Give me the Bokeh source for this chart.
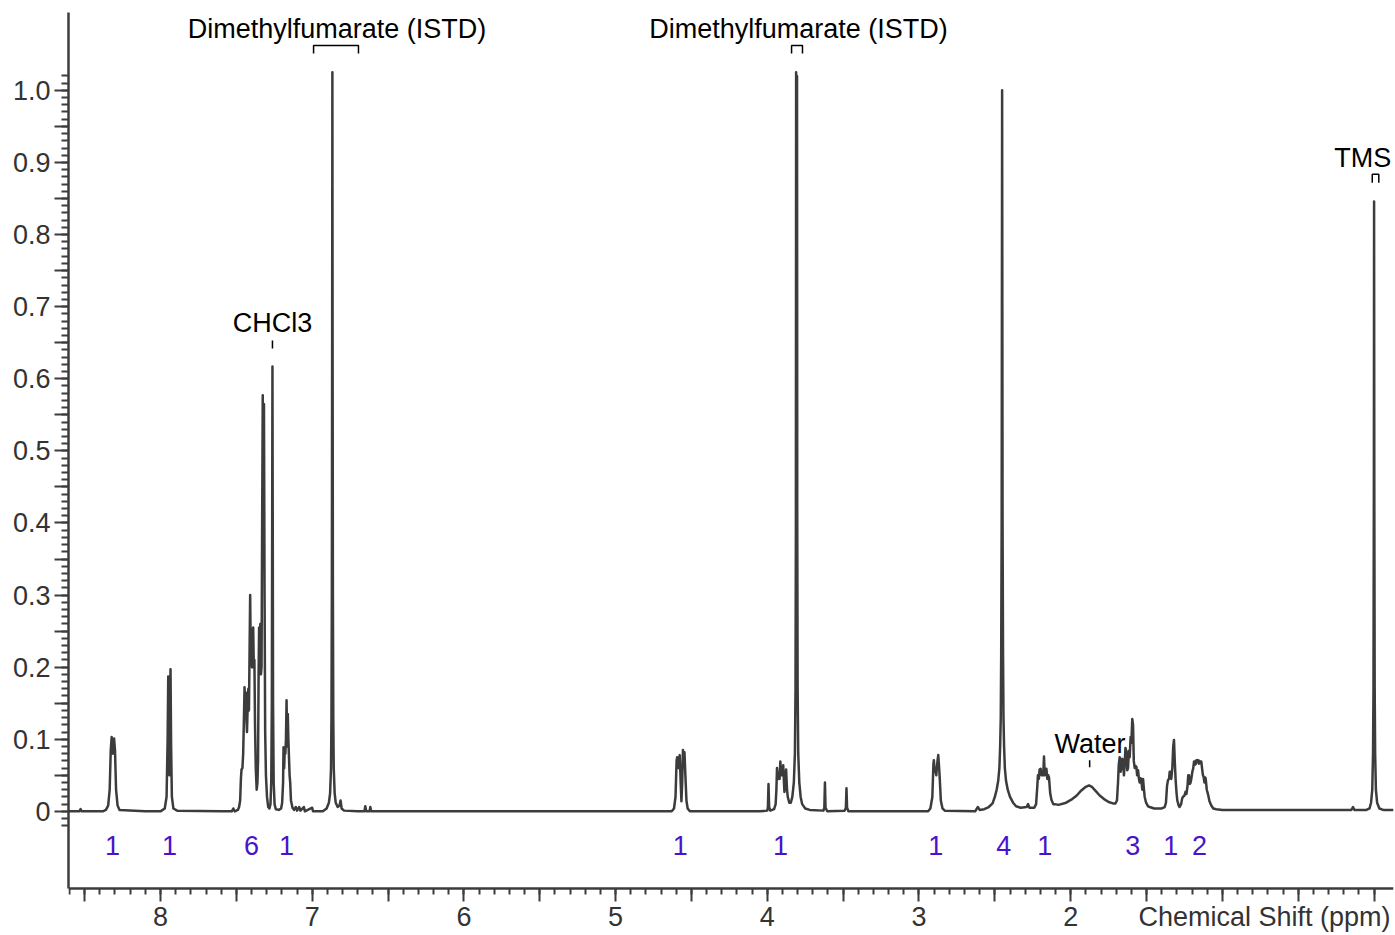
from bokeh.plotting import figure
from bokeh.models import Range1d, FixedTicker, CustomJSTickFormatter
from bokeh.core.properties import value
from bokeh.embed import file_html
from bokeh.resources import INLINE

# ---- spectrum as (ppm, relative intensity) ----
baseline_left = [(8.6065, 0.0), (8.535, 0.0), (8.527, 0.003), (8.519, 0.0), (8.38, 0.0)]
m_8_31 = [(8.36, 0.002), (8.345, 0.008), (8.335, 0.03), (8.328, 0.085), (8.322, 0.103),
          (8.314, 0.080), (8.306, 0.101), (8.300, 0.085), (8.293, 0.03), (8.283, 0.008),
          (8.27, 0.002), (8.10, 0.0)]
m_7_94 = [(8.0, 0.0), (7.972, 0.004), (7.960, 0.02), (7.953, 0.10), (7.949, 0.187),
          (7.945, 0.09), (7.941, 0.05), (7.938, 0.11), (7.934, 0.197), (7.930, 0.09),
          (7.925, 0.02), (7.915, 0.004), (7.89, 0.001), (7.60, 0.0), (7.53, 0.0),
          (7.52, 0.004), (7.51, 0.0)]
m_7_40 = [(7.49, 0.002), (7.482, 0.006), (7.475, 0.015), (7.470, 0.045), (7.466, 0.058),
          (7.460, 0.06), (7.455, 0.08), (7.450, 0.13), (7.446, 0.172), (7.442, 0.14),
          (7.438, 0.165), (7.434, 0.13), (7.430, 0.11), (7.426, 0.14), (7.421, 0.17),
          (7.417, 0.14), (7.413, 0.22), (7.409, 0.300), (7.405, 0.22), (7.401, 0.245),
          (7.397, 0.20), (7.393, 0.25), (7.389, 0.255), (7.385, 0.20), (7.381, 0.21),
          (7.377, 0.12), (7.372, 0.06), (7.366, 0.03), (7.361, 0.04), (7.357, 0.07),
          (7.353, 0.20), (7.350, 0.255), (7.346, 0.20), (7.342, 0.26), (7.338, 0.19),
          (7.334, 0.20), (7.330, 0.40), (7.326, 0.577), (7.322, 0.45), (7.318, 0.565),
          (7.314, 0.30), (7.310, 0.11), (7.305, 0.05), (7.298, 0.02), (7.290, 0.006),
          (7.282, 0.004)]
m_chcl3 = [(7.275, 0.01), (7.270, 0.04), (7.266, 0.15), (7.262, 0.617), (7.258, 0.15),
           (7.254, 0.04), (7.248, 0.01), (7.24, 0.003), (7.22, 0.002)]
m_7_17 = [(7.205, 0.004), (7.198, 0.012), (7.192, 0.04), (7.189, 0.089), (7.185, 0.06),
          (7.181, 0.085), (7.177, 0.08), (7.173, 0.10), (7.169, 0.154), (7.165, 0.09),
          (7.161, 0.135), (7.157, 0.10), (7.153, 0.075), (7.149, 0.05), (7.145, 0.04),
          (7.140, 0.015), (7.13, 0.005), (7.12, 0.002), (7.108, 0.006), (7.10, 0.001),
          (7.086, 0.006), (7.078, 0.001), (7.055, 0.006), (7.048, 0.0), (7.0, 0.005),
          (6.995, 0.0), (6.93, 0.0)]
m_dmf_olefin = [(6.905, 0.004), (6.89, 0.012), (6.882, 0.025), (6.876, 0.06), (6.873, 0.13),
                (6.8705, 0.30), (6.8685, 0.65), (6.867, 1.025), (6.8655, 0.65), (6.8635, 0.30),
                (6.861, 0.13), (6.858, 0.06), (6.852, 0.025), (6.845, 0.012), (6.832, 0.006),
                (6.82, 0.008), (6.813, 0.015), (6.806, 0.004), (6.79, 0.001), (6.70, 0.0),
                (6.656, 0.0), (6.650, 0.007), (6.644, 0.0), (6.622, 0.0), (6.617, 0.006),
                (6.611, 0.0), (4.70, 0.0)]
m_4_57 = [(4.63, 0.0), (4.615, 0.004), (4.605, 0.02), (4.598, 0.07), (4.594, 0.075),
          (4.588, 0.06), (4.580, 0.075), (4.577, 0.078), (4.571, 0.04), (4.566, 0.014),
          (4.561, 0.04), (4.556, 0.085), (4.552, 0.07), (4.546, 0.082), (4.540, 0.05),
          (4.533, 0.015), (4.525, 0.004), (4.51, 0.0), (4.05, 0.0)]
m_3_91 = [(4.0, 0.001), (3.996, 0.006), (3.992, 0.038), (3.988, 0.006), (3.98, 0.001),
          (3.955, 0.003), (3.945, 0.01), (3.940, 0.03), (3.936, 0.060), (3.930, 0.045),
          (3.924, 0.051), (3.919, 0.045), (3.914, 0.069), (3.908, 0.05), (3.903, 0.060),
          (3.899, 0.05), (3.895, 0.064), (3.890, 0.04), (3.887, 0.027), (3.881, 0.04),
          (3.876, 0.058), (3.870, 0.03), (3.865, 0.02), (3.855, 0.012), (3.845, 0.012)]
m_dmf_methyl = [(3.835, 0.02), (3.825, 0.04), (3.818, 0.08), (3.814, 0.17), (3.8115, 0.40),
                (3.810, 1.025), (3.807, 0.96), (3.804, 1.02), (3.8025, 0.40), (3.800, 0.17),
                (3.796, 0.08), (3.789, 0.04), (3.78, 0.02), (3.77, 0.01), (3.75, 0.004),
                (3.72, 0.002), (3.63, 0.001), (3.624, 0.005), (3.620, 0.040), (3.616, 0.005),
                (3.605, 0.0), (3.49, 0.001), (3.482, 0.005), (3.478, 0.032), (3.474, 0.005),
                (3.465, 0.0), (2.94, 0.0)]
m_2_89 = [(2.925, 0.004), (2.912, 0.02), (2.905, 0.065), (2.902, 0.071), (2.896, 0.055),
          (2.891, 0.057), (2.886, 0.05), (2.878, 0.07), (2.873, 0.078), (2.867, 0.06),
          (2.863, 0.045), (2.856, 0.015), (2.845, 0.004), (2.83, 0.001), (2.63, 0.0),
          (2.612, 0.006), (2.60, 0.002)]
m_2_45 = [(2.57, 0.003), (2.54, 0.006), (2.515, 0.011), (2.50, 0.02), (2.488, 0.03),
          (2.478, 0.042), (2.470, 0.06), (2.465, 0.09), (2.461, 0.13), (2.458, 0.22),
          (2.455, 0.40), (2.4535, 0.70), (2.452, 1.0), (2.4505, 0.70), (2.449, 0.40),
          (2.446, 0.22), (2.443, 0.13), (2.439, 0.09), (2.434, 0.06), (2.426, 0.042),
          (2.415, 0.03), (2.40, 0.02), (2.38, 0.012), (2.36, 0.007), (2.33, 0.005),
          (2.29, 0.006), (2.281, 0.01), (2.272, 0.005), (2.25, 0.005)]
m_2_18 = [(2.24, 0.005), (2.228, 0.01), (2.220, 0.035), (2.216, 0.05), (2.210, 0.045),
          (2.205, 0.058), (2.198, 0.059), (2.192, 0.05), (2.186, 0.055), (2.181, 0.05),
          (2.176, 0.076), (2.171, 0.05), (2.166, 0.055), (2.160, 0.059), (2.154, 0.045),
          (2.148, 0.05), (2.143, 0.047), (2.135, 0.025), (2.127, 0.016), (2.115, 0.01),
          (2.105, 0.01)]
m_water = [(2.08, 0.009), (2.03, 0.012), (1.99, 0.017), (1.96, 0.022), (1.93, 0.029),
           (1.90, 0.034), (1.879, 0.036), (1.86, 0.034), (1.83, 0.027), (1.809, 0.022),
           (1.78, 0.017), (1.75, 0.013), (1.721, 0.011), (1.705, 0.011)]
m_1_59 = [(1.695, 0.015), (1.688, 0.04), (1.683, 0.065), (1.677, 0.075), (1.671, 0.055),
          (1.666, 0.06), (1.660, 0.073), (1.655, 0.07), (1.649, 0.05), (1.644, 0.065),
          (1.639, 0.088), (1.633, 0.083), (1.627, 0.057), (1.622, 0.06), (1.616, 0.084),
          (1.611, 0.075), (1.605, 0.103), (1.600, 0.095), (1.594, 0.128), (1.589, 0.12),
          (1.584, 0.07), (1.578, 0.06), (1.573, 0.063), (1.567, 0.062), (1.562, 0.05),
          (1.556, 0.057), (1.550, 0.045), (1.545, 0.04), (1.539, 0.046), (1.534, 0.043),
          (1.528, 0.03), (1.523, 0.045), (1.517, 0.03), (1.512, 0.020), (1.503, 0.012),
          (1.490, 0.007), (1.479, 0.006), (1.45, 0.004), (1.40, 0.004), (1.38, 0.006)]
m_1_32 = [(1.372, 0.012), (1.365, 0.035), (1.359, 0.043), (1.352, 0.045), (1.347, 0.055),
          (1.343, 0.055), (1.337, 0.045), (1.330, 0.06), (1.324, 0.09), (1.319, 0.099),
          (1.314, 0.07), (1.308, 0.043), (1.302, 0.025), (1.297, 0.015), (1.288, 0.008),
          (1.282, 0.006), (1.272, 0.01)]
m_1_17 = [(1.265, 0.018), (1.260, 0.02), (1.250, 0.022), (1.243, 0.027), (1.237, 0.024),
          (1.230, 0.035), (1.225, 0.05), (1.220, 0.050), (1.215, 0.038), (1.211, 0.039),
          (1.205, 0.045), (1.198, 0.055), (1.192, 0.06), (1.187, 0.069), (1.183, 0.069),
          (1.177, 0.065), (1.172, 0.071), (1.166, 0.068), (1.161, 0.071), (1.155, 0.066),
          (1.150, 0.070), (1.145, 0.067), (1.139, 0.069), (1.133, 0.058), (1.128, 0.05),
          (1.124, 0.048), (1.118, 0.04), (1.113, 0.047), (1.110, 0.045), (1.103, 0.03),
          (1.095, 0.024), (1.085, 0.014), (1.073, 0.008), (1.06, 0.004), (1.04, 0.003),
          (1.0, 0.002)]
m_tms = [(0.5, 0.002), (0.15, 0.002), (0.139, 0.006), (0.13, 0.002), (0.05, 0.002),
         (0.03, 0.004), (0.02, 0.012), (0.012, 0.03), (0.007, 0.08), (0.004, 0.17),
         (0.0015, 0.45), (0.0, 0.846), (-0.0015, 0.45), (-0.004, 0.17), (-0.007, 0.08),
         (-0.012, 0.03), (-0.02, 0.012), (-0.035, 0.004), (-0.06, 0.002), (-0.128, 0.002)]

segments = [baseline_left, m_8_31, m_7_94, m_7_40, m_chcl3, m_7_17, m_dmf_olefin, m_4_57,
            m_3_91, m_dmf_methyl, m_2_89, m_2_45, m_2_18, m_water, m_1_59, m_1_32, m_1_17, m_tms]
shift_ppm = [pt[0] for seg in segments for pt in seg]
intensity = [pt[1] for seg in segments for pt in seg]

# ---- integrals (purple numbers under the multiplets) ----
integral_ppm = [8.316, 7.94, 7.40, 7.17, 4.573, 3.913, 2.89, 2.442, 2.171, 1.591, 1.34, 1.15]
integral_text = ["1", "1", "6", "1", "1", "1", "1", "4", "1", "3", "1", "2"]
integral_row = -0.047

# ---- peak annotations ----
annot_text = ["Dimethylfumarate (ISTD)", "Dimethylfumarate (ISTD)", "CHCl3", "Water", "TMS"]
annot_ppm = [6.837, 3.794, 7.262, 1.872, 0.075]
annot_y = [1.0846, 1.0846, 0.677, 0.094, 0.906]
bracket_from = [6.991, 3.840, 7.262, 1.875, 0.012]
bracket_to = [6.695, 3.768, 7.262, 1.875, -0.031]
bracket_top = [1.0624, 1.0624, 0.653, 0.0707, 0.8835]
bracket_bottom = [1.0513, 1.0513, 0.642, 0.061, 0.872]

# ---- axes ----
x_title = "Chemical Shift (ppm)"
x_start, x_end = 8.6065, -0.128
y_axis_bottom, y_top = -0.107, 1.108
y_frame_bottom = -0.1722
x_title_pos = (-0.108, -0.147)
x_tick_major = [i * 0.5 for i in range(18)]
x_tick_minor = [round(i * 0.1, 1) for i in range(87)]
y_tick_major = [round(i * 0.05, 2) for i in range(21)]
y_tick_minor = [round(-0.02 + i * 0.01, 2) for i in range(105)]

FONT = "Liberation Sans"
FS = "27px"
INK = "#3c3c3c"
LABEL_INK = "#333333"
PURPLE = "#4a12cc"

p = figure(width=1395, height=935, x_range=Range1d(x_start, x_end),
           y_range=Range1d(y_frame_bottom, y_top),
           output_backend="svg", toolbar_location=None,
           min_border_left=68, min_border_right=2, min_border_top=12, min_border_bottom=0)
p.outline_line_color = None
p.grid.visible = False
p.background_fill_color = "white"
p.border_fill_color = "white"

xa = p.xaxis[0]
xa.fixed_location = y_axis_bottom
xa.ticker = FixedTicker(ticks=x_tick_major, minor_ticks=x_tick_minor)
xa.formatter = CustomJSTickFormatter(
    code="return (tick >= 1.5 && Math.abs(tick - Math.round(tick)) < 1e-6) ? tick.toFixed(0) : '';")
ya = p.yaxis[0]
ya.bounds = (y_axis_bottom, y_top)
ya.ticker = FixedTicker(ticks=y_tick_major, minor_ticks=y_tick_minor)
ya.formatter = CustomJSTickFormatter(
    code="var t = tick*10; if (Math.abs(t - Math.round(t)) > 1e-6) return ''; return Math.abs(tick) < 1e-9 ? '0' : tick.toFixed(1);")
for ax in (xa, ya):
    ax.axis_line_color = INK
    ax.axis_line_width = 2.5
    ax.major_tick_line_color = INK
    ax.minor_tick_line_color = INK
    ax.major_tick_line_width = 2
    ax.minor_tick_line_width = 2
    ax.major_tick_in = 0
    ax.minor_tick_in = 0
    ax.major_label_text_font = FONT
    ax.major_label_text_font_size = FS
    ax.major_label_text_color = LABEL_INK
xa.major_tick_out = 13
xa.minor_tick_out = 6
xa.major_label_standoff = 6
ya.major_tick_out = 14
ya.minor_tick_out = 7
ya.major_label_standoff = 4

# spectrum
p.line(shift_ppm, intensity, line_color=INK, line_width=2.5, line_join="round")

# integrals
p.text(x=integral_ppm, y=[integral_row] * len(integral_ppm), text=integral_text,
       text_color=PURPLE, text_font=value(FONT), text_font_size=FS,
       text_align="center", text_baseline="middle")

# annotations
p.text(x=annot_ppm, y=annot_y, text=annot_text, text_color="black", text_font=value(FONT),
       text_font_size=FS, text_align="center", text_baseline="middle")
bx = [[a, a, b, b] for a, b in zip(bracket_from, bracket_to)]
by = [[lo, hi, hi, lo] for lo, hi in zip(bracket_bottom, bracket_top)]
p.multi_line(bx, by, line_color="black", line_width=1.5)

# x-axis title, on the tick-label row at the right end
p.text(x=[x_title_pos[0]], y=[x_title_pos[1]], text=[x_title], text_color=LABEL_INK,
       text_font=value(FONT), text_font_size=FS, text_align="right", text_baseline="middle")

open("out.html", "w").write(file_html(p, INLINE))
